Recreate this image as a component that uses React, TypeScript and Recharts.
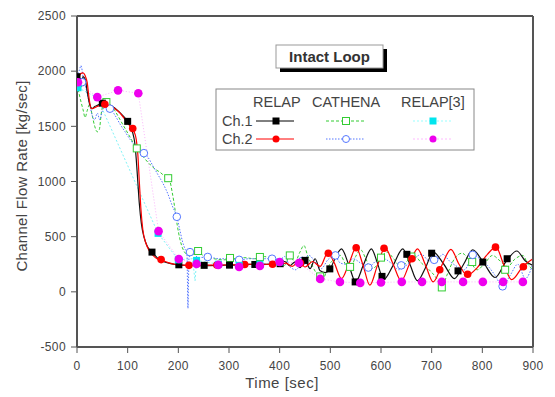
import { ComposedChart, Line, Scatter, XAxis, YAxis } from "recharts";

// ---- RELAP Ch.1 (black, solid, filled squares)
const relap1T = [0, 4, 8, 12, 16, 20, 25, 30, 35, 40, 50, 60, 70, 80, 90, 100, 105, 110, 114, 117, 120, 123, 127, 132, 138, 145, 152, 160, 170, 185, 200, 230, 260, 300, 340, 380, 400, 410, 420, 430, 440, 450, 460, 470, 480, 490, 500, 510, 522, 536, 550, 565, 581, 593, 605, 624, 643, 657, 672, 688, 703, 724, 745, 763, 781, 803, 825, 846, 868, 885, 900];
const relap1V = [1960, 1900, 1860, 1950, 1930, 1820, 1700, 1660, 1680, 1690, 1710, 1700, 1680, 1645, 1600, 1545, 1500, 1440, 1350, 1200, 1000, 800, 620, 500, 420, 370, 340, 300, 275, 255, 245, 240, 238, 242, 248, 250, 255, 275, 235, 270, 220, 285, 210, 300, 190, 175, 210, 310, 390, 250, 90, 240, 390, 260, 110, 240, 390, 250, 100, 220, 360, 250, 120, 250, 380, 260, 130, 270, 370, 280, 240];
const relap1MarkT = [0, 50, 100, 148, 201, 251, 301, 351, 401, 450, 499, 549, 602, 651, 700, 752, 801, 849];
const relap1MarkV = [1950, 1710, 1545, 360, 245, 240, 242, 248, 255, 285, 208, 90, 140, 340, 350, 190, 270, 300];

// ---- RELAP Ch.2 (red, solid, filled circles)
const relap2T = [0, 4, 8, 12, 16, 20, 24, 28, 35, 45, 55, 65, 75, 85, 95, 105, 112, 117, 120, 123, 126, 130, 136, 143, 150, 158, 166, 180, 200, 230, 260, 300, 340, 380, 400, 412, 425, 438, 450, 465, 480, 495, 508, 522, 537, 551, 564, 578, 593, 608, 624, 640, 656, 672, 688, 703, 720, 738, 754, 770, 790, 810, 827, 842, 858, 880, 900];
const relap2V = [1880, 1950, 1980, 1985, 1960, 1900, 1750, 1660, 1670, 1690, 1700, 1690, 1660, 1620, 1560, 1500, 1460, 1380, 1250, 1000, 760, 560, 440, 370, 330, 300, 290, 265, 245, 240, 242, 245, 250, 250, 248, 260, 230, 280, 225, 275, 230, 355, 260, 120, 260, 400, 250, 60, 240, 400, 250, 100, 250, 390, 240, 90, 240, 385, 250, 150, 220, 340, 405, 250, 110, 230, 300];
const relap2MarkT = [55, 110, 166, 221, 276, 331, 386, 441, 496, 551, 606, 661, 716, 771, 826, 881];
const relap2MarkV = [1700, 1480, 292, 240, 243, 248, 250, 260, 350, 400, 395, 300, 200, 160, 405, 228];

// ---- CATHENA Ch.1 (green, dashed, hollow squares)
const cath1T = [0, 4, 8, 12, 16, 20, 25, 30, 35, 40, 44, 48, 52, 58, 65, 75, 85, 95, 105, 115, 125, 135, 145, 155, 165, 175, 182, 188, 193, 198, 203, 208, 214, 222, 230, 240, 250, 270, 290, 310, 330, 350, 370, 390, 400, 410, 420, 430, 440, 448, 455, 465, 475, 484, 492, 500, 510, 520, 530, 540, 550, 560, 570, 580, 590, 600, 612, 625, 640, 652, 665, 680, 695, 710, 720, 730, 745, 760, 775, 790, 805, 820, 835, 850, 865, 880, 890, 900];
const cath1V = [1880, 1800, 1720, 1650, 1580, 1640, 1700, 1600, 1500, 1450, 1470, 1620, 1700, 1720, 1700, 1640, 1560, 1480, 1400, 1320, 1260, 1200, 1150, 1110, 1080, 1040, 1020, 900, 760, 600, 480, 400, 350, 330, 340, 370, 320, 300, 290, 300, 310, 300, 320, 290, 300, 240, 330, 270, 360, 420, 330, 230, 150, 100, 180, 260, 300, 330, 250, 220, 320, 380, 300, 210, 230, 310, 360, 300, 220, 280, 330, 260, 200, 120, 40, 150, 300, 350, 280, 200, 260, 330, 280, 230, 300, 330, 250, 200];
const cath1MarkT = [0, 58, 118, 180, 239, 302, 361, 420, 480, 539, 600, 660, 720, 780, 845];
const cath1MarkV = [1900, 1720, 1300, 1030, 370, 307, 316, 330, 140, 226, 310, 320, 40, 270, 200];

// ---- CATHENA Ch.2 (blue, dotted, hollow circles)
const cath2T = [0, 4, 8, 12, 16, 20, 25, 30, 35, 40, 45, 50, 58, 65, 75, 85, 95, 105, 115, 125, 132, 140, 150, 160, 170, 180, 188, 197, 203, 208, 213, 217, 219, 221, 225, 240, 258, 280, 300, 320, 340, 360, 380, 400, 410, 420, 432, 445, 458, 470, 482, 495, 508, 520, 533, 545, 560, 575, 590, 605, 620, 635, 650, 665, 680, 695, 710, 722, 735, 750, 765, 781, 795, 810, 825, 840, 855, 870, 885, 900];
const cath2V = [1950, 2000, 2050, 1950, 1880, 1800, 1700, 1600, 1560, 1620, 1560, 1640, 1680, 1665, 1600, 1520, 1450, 1380, 1320, 1280, 1260, 1220, 1140, 1060, 980, 880, 780, 680, 560, 460, 390, 350, -150, 300, 360, 310, 316, 300, 300, 290, 300, 300, 300, 290, 320, 230, 200, 280, 330, 270, 210, 290, 330, 260, 250, 300, 260, 220, 280, 300, 260, 200, 240, 300, 340, 280, 290, 340, 280, 230, 200, 335, 300, 240, 150, 50, 150, 250, 120, 260];
const cath2MarkT = [10, 65, 132, 197, 223, 258, 320, 385, 445, 510, 575, 640, 705, 781, 840];
const cath2MarkV = [1900, 1660, 1257, 680, 360, 316, 290, 300, 280, 330, 220, 240, 290, 335, 50];

// ---- RELAP[3] Ch.1 (cyan squares) and Ch.2 (magenta circles)
const ref1T = [2, 40, 160, 200, 228, 233, 236, 279, 320, 361, 400];
const ref1V = [1850, 1760, 530, 290, 300, 100, 285, 250, 240, 250, 270];
const ref1MarkT = [2, 160, 200, 236, 279, 320, 361, 400];
const ref1MarkV = [1850, 530, 290, 285, 250, 240, 250, 270];
const ref2T = [2, 40, 81, 121, 161, 201, 236, 279, 320, 361, 400, 438, 480, 519, 559, 600, 641, 681, 720, 762, 801, 841, 880];
const ref2V = [1900, 1765, 1826, 1800, 550, 298, 253, 244, 226, 235, 271, 262, 117, 90, 81, 85, 90, 90, 90, 90, 90, 90, 90];

// ---- axes
const xMajor = [0, 100, 200, 300, 400, 500, 600, 700, 800, 900];
const xMinor = [50, 150, 250, 350, 450, 550, 650, 750, 850];
const yMajor = [-500, 0, 500, 1000, 1500, 2000, 2500];
const yMinor = [-250, 250, 750, 1250, 1750, 2250];

const toPts = (ts: number[], vs: number[]) => ts.map((t, i) => ({ t, v: vs[i] }));

const FONT = "'Liberation Sans', Arial, sans-serif";
const AXIS = "#555";
const TXT = "#444";

const filledSquare = (color: string, s: number) => (p: any) => (
  <rect x={p.cx - s / 2} y={p.cy - s / 2} width={s} height={s} fill={color} />
);
const filledCircle = (color: string, r: number) => (p: any) => <circle cx={p.cx} cy={p.cy} r={r} fill={color} />;
const hollowSquare = (color: string, s: number) => (p: any) => (
  <rect x={p.cx - s / 2} y={p.cy - s / 2} width={s} height={s} fill="white" stroke={color} strokeWidth={1} />
);
const hollowCircle = (color: string, r: number) => (p: any) => (
  <circle cx={p.cx} cy={p.cy} r={r} fill="white" stroke={color} strokeWidth={1} />
);

function LegendOverlay() {
  const rows = [
    { label: "Ch.1", y: 121, cols: [
      { x: 276, color: "#000", dash: undefined, mark: <rect x={272.5} y={117.5} width={7} height={7} fill="#000" /> },
      { x: 346, color: "#33cc33", dash: "3 2", mark: <rect x={342.5} y={117.5} width={7} height={7} fill="white" stroke="#33cc33" /> },
      { x: 433, color: "#9ff", dash: "2 2", mark: <rect x={429.5} y={117.5} width={7} height={7} fill="#00e5ee" /> },
    ] },
    { label: "Ch.2", y: 139, cols: [
      { x: 276, color: "#f00", dash: undefined, mark: <circle cx={276} cy={139} r={3.5} fill="#f00" /> },
      { x: 346, color: "#5577ff", dash: "1.5 1.5", mark: <circle cx={346} cy={139} r={3.5} fill="white" stroke="#5577ff" /> },
      { x: 433, color: "#fbf", dash: "2 2", mark: <circle cx={433} cy={139} r={3.5} fill="#ee00ee" /> },
    ] },
  ];
  return (
    <svg width={555} height={397} style={{ position: "absolute", left: 0, top: 0, pointerEvents: "none" }}>
      <g fontFamily={FONT}>
        {/* axis titles */}
        <text x={282} y={388} textAnchor="middle" fontSize={15} fill={TXT} letterSpacing={0.5}>Time [sec]</text>
        <text x={27} y={176} textAnchor="middle" fontSize={15} fill={TXT} letterSpacing={0.3} transform="rotate(-90 27 176)">
          Channel Flow Rate [kg/sec]
        </text>
        {/* title box */}
        <rect x={280} y={49} width={107} height={23} fill="#000" />
        <rect x={276} y={45} width={107} height={23} fill="white" stroke="#999" />
        <text x={329.5} y={62} textAnchor="middle" fontSize={15} fontWeight="bold" fill="#333">Intact Loop</text>
        {/* legend */}
        <rect x={216} y={89} width={258} height={61} fill="white" stroke="#888" />
        <text x={253} y={107} fontSize={14.5} fill={TXT}>RELAP</text>
        <text x={312} y={107} fontSize={14.5} fill={TXT}>CATHENA</text>
        <text x={401} y={107} fontSize={14.5} fill={TXT}>RELAP[3]</text>
        {rows.map((r) => (
          <g key={r.label}>
            <text x={222} y={r.y + 5} fontSize={14.5} fill={TXT}>{r.label}</text>
            {r.cols.map((c, i) => (
              <g key={i}>
                <line x1={c.x - 20} x2={c.x + 18} y1={r.y} y2={r.y} stroke={c.color} strokeDasharray={c.dash} strokeWidth={1} />
                {c.mark}
              </g>
            ))}
          </g>
        ))}
      </g>
    </svg>
  );
}

export default function App() {
  const tickStyle = { fontSize: 12, fill: TXT, fontFamily: FONT, letterSpacing: 0.4 };
  return (
    <div style={{ position: "absolute", left: 0, top: 0, width: 555, height: 397, background: "white" }}>
      <ComposedChart width={555} height={397} margin={{ top: 15, right: 21, bottom: 48, left: 75 }}>
        <XAxis type="number" dataKey="t" domain={[0, 900]} ticks={xMajor} tick={tickStyle} tickSize={6} tickMargin={8}
          height={1} axisLine={{ stroke: AXIS, strokeWidth: 2 }} tickLine={{ stroke: AXIS }} allowDataOverflow />
        <XAxis xAxisId="minor" type="number" dataKey="t" domain={[0, 900]} ticks={xMinor} tick={false}
          tickSize={4} height={1} axisLine={false} tickLine={{ stroke: AXIS }} allowDataOverflow />
        <XAxis xAxisId="top" orientation="top" type="number" domain={[0, 900]} tick={false} tickLine={false}
          height={1} axisLine={{ stroke: AXIS, strokeWidth: 2 }} />
        <YAxis type="number" dataKey="v" domain={[-500, 2500]} ticks={yMajor} tick={tickStyle} tickSize={6} tickMargin={5}
          width={1} axisLine={{ stroke: AXIS, strokeWidth: 2 }} tickLine={{ stroke: AXIS }} allowDataOverflow />
        <YAxis yAxisId="minor" type="number" dataKey="v" domain={[-500, 2500]} ticks={yMinor} tick={false}
          tickSize={4} width={1} axisLine={false} tickLine={{ stroke: AXIS }} allowDataOverflow />
        <YAxis yAxisId="right" orientation="right" type="number" domain={[-500, 2500]} tick={false} tickLine={false}
          width={1} axisLine={{ stroke: AXIS, strokeWidth: 2 }} />

        <Line data={toPts(ref1T, ref1V)} dataKey="v" type="linear" stroke="#00e5ee" strokeOpacity={0.5} strokeWidth={1}
          strokeDasharray="2 2" dot={false} activeDot={false} isAnimationActive={false} />
        <Line data={toPts(ref2T, ref2V)} dataKey="v" type="linear" stroke="#ee00ee" strokeOpacity={0.3} strokeWidth={1}
          strokeDasharray="1 2" dot={false} activeDot={false} isAnimationActive={false} />
        <Line data={toPts(cath1T, cath1V)} dataKey="v" type="monotone" stroke="#33cc33" strokeWidth={1}
          strokeDasharray="3 2" dot={false} activeDot={false} isAnimationActive={false} />
        <Line data={toPts(cath2T, cath2V)} dataKey="v" type="monotone" stroke="#5577ff" strokeWidth={1}
          strokeDasharray="1.5 1.5" dot={false} activeDot={false} isAnimationActive={false} />
        <Line data={toPts(relap1T, relap1V)} dataKey="v" type="monotone" stroke="#111" strokeWidth={1.2}
          dot={false} activeDot={false} isAnimationActive={false} />
        <Line data={toPts(relap2T, relap2V)} dataKey="v" type="monotone" stroke="#f00" strokeWidth={1.2}
          dot={false} activeDot={false} isAnimationActive={false} />

        <Scatter data={toPts(cath1MarkT, cath1MarkV)} dataKey="v" shape={hollowSquare("#33cc33", 7)} isAnimationActive={false} />
        <Scatter data={toPts(cath2MarkT, cath2MarkV)} dataKey="v" shape={hollowCircle("#5577ff", 3.8)} isAnimationActive={false} />
        <Scatter data={toPts(relap1MarkT, relap1MarkV)} dataKey="v" shape={filledSquare("#000", 7)} isAnimationActive={false} />
        <Scatter data={toPts(relap2MarkT, relap2MarkV)} dataKey="v" shape={filledCircle("#f00", 3.8)} isAnimationActive={false} />
        <Scatter data={toPts(ref1MarkT, ref1MarkV)} dataKey="v" shape={filledSquare("#00e5ee", 7)} isAnimationActive={false} />
        <Scatter data={toPts(ref2T, ref2V)} dataKey="v" shape={filledCircle("#ee00ee", 4.3)} isAnimationActive={false} />
      </ComposedChart>
      <LegendOverlay />
    </div>
  );
}
